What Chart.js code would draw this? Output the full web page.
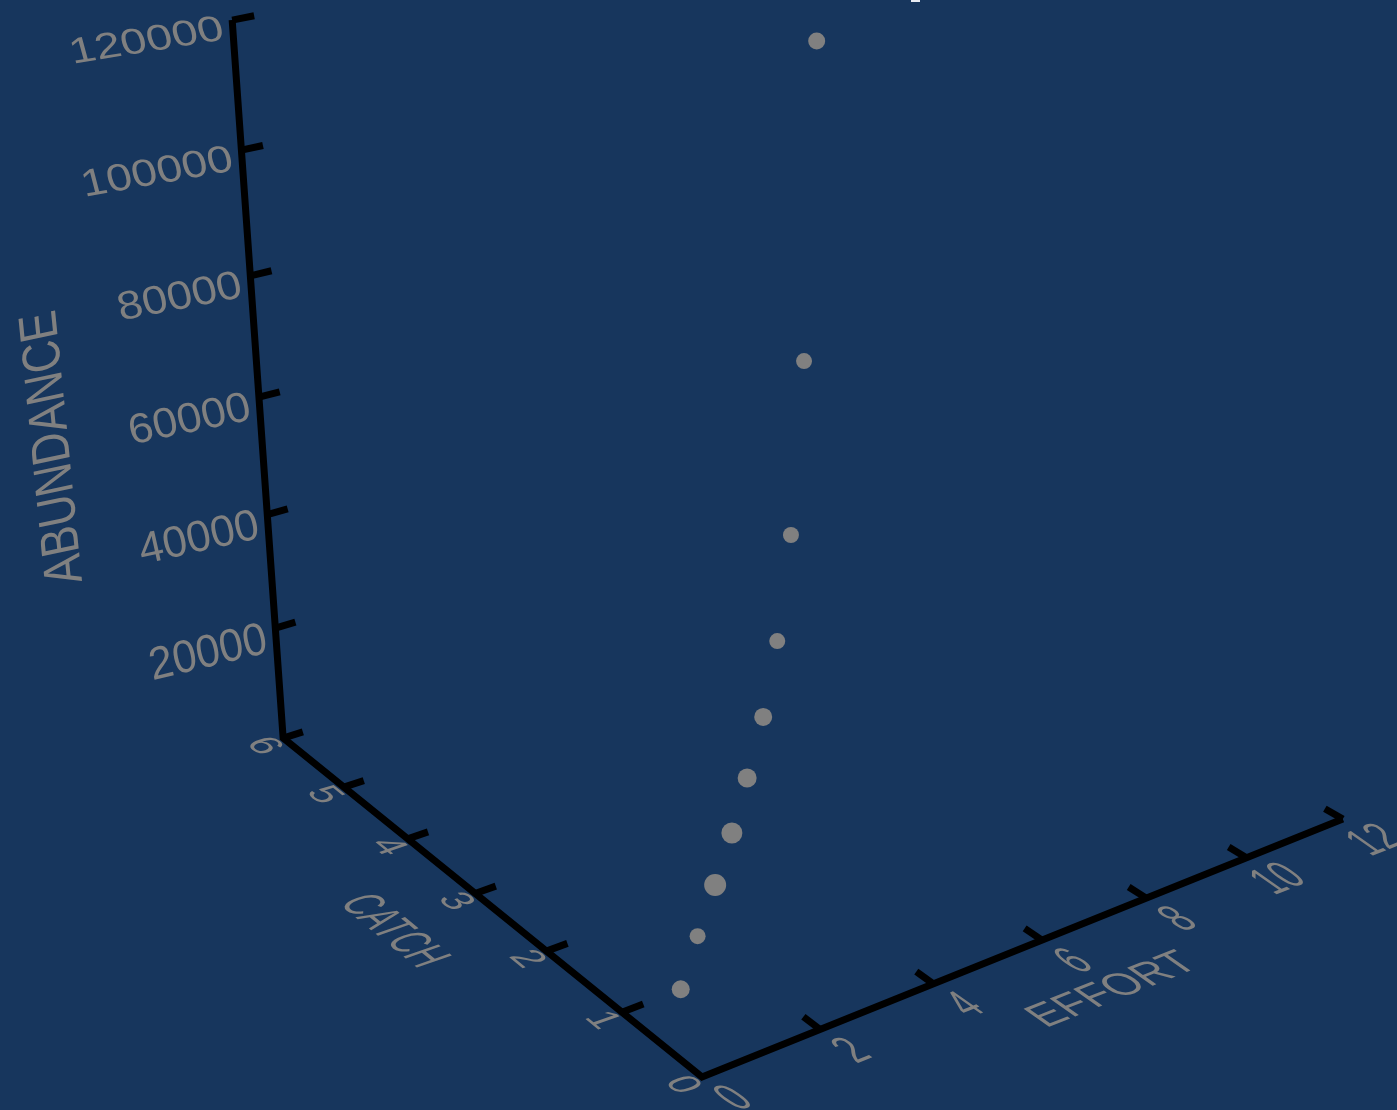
<!DOCTYPE html>
<html>
<head>
<meta charset="utf-8">
<title>Abundance, catch and effort</title>
<script src="https://cdn.jsdelivr.net/npm/chart.js@4"></script>
<style>
	html, body { margin: 0; padding: 0; background: #17365d; overflow: hidden; }
	#wrap { position: relative; width: 1397px; height: 1110px; }
</style>
</head>
<body>
<div id="wrap"><canvas id="chart"></canvas></div>
<script>
// values
const effort = [1, 2, 3, 4, 5, 6, 7, 8, 9, 10];
const catchValues = [1, 1.52, 2.02, 2.52, 3.03, 3.52, 4.03, 4.54, 5.06, 5.6];
const abundance = [50, 50, 370, 1240, 2980, 6410, 12830, 25240, 50260, 100340];

const effortTicks = [0, 2, 4, 6, 8, 10, 12];
const catchTicks = [0, 1, 2, 3, 4, 5, 6];
const abundanceTicks = [20000, 40000, 60000, 80000, 100000, 120000];

// marker size per point, it changes with the point in the original
const markerRadius = [9, 8, 11, 10.5, 9.5, 9, 8, 8, 8, 8.5];

const BG = '#17365d';
const GREY = '#808080';

// 3d -> screen projection, abundance goes per 20000
function project(e, c, a){
	const u = a / 20000;
	const w = 1 + 0.01085 * e + 0.0303 * c - 0.0189 * u;
	return {
		x: (702 + 67.97 * e - 61.23 * c - 14.43 * u) / w,
		y: (1077 - 12.61 * e - 34.12 * c - 141.8 * u) / w
	};
}

function lineSet(points, width){
	return {
		data: points,
		showLine: true,
		borderColor: '#000',
		borderWidth: width,
		borderJoinStyle: 'miter',
		borderCapStyle: 'butt',
		pointRadius: 0
	};
}

const datasets = [];

datasets.push({
	label: 'ABUNDANCE',
	data: effort.map((e, i)=>project(e, catchValues[i], abundance[i])),
	backgroundColor: GREY,
	borderWidth: 0,
	pointRadius: markerRadius,
	pointStyle: 'circle'
});

// axes
datasets.push(lineSet([project(12, 0, 0), project(0, 0, 0), project(0, 6, 0), project(0, 6, 120000)], 7));

// ticks
effortTicks.slice(1).forEach((e)=>{
	datasets.push(lineSet([project(e, 0, 0), project(e, 0.2, 0)], 7));
});
catchTicks.slice(1).forEach((c)=>{
	datasets.push(lineSet([project(0, c, 0), project(0.36, c, 0)], 7));
});
abundanceTicks.forEach((a)=>{
	datasets.push(lineSet([project(0, 6, a), project(0.36, 6, a)], 7));
});

// text lying on the 3d planes, so it needs a skew and not only a rotation
function drawText(ctx, text, x, y, m, align, baseline){
	ctx.save();
	ctx.transform(m[0], m[1], m[2], m[3], x, y);
	ctx.font = '40px "Liberation Sans", Arial, sans-serif';
	ctx.fillStyle = GREY;
	ctx.textAlign = align;
	ctx.textBaseline = baseline;
	ctx.fillText(text, 0, 0);
	ctx.restore();
}

const labelsPlugin = {
	id: 'labels3d',
	beforeDraw(chart){
		const ctx = chart.ctx;
		ctx.save();
		ctx.fillStyle = BG;
		ctx.fillRect(0, 0, chart.width, chart.height);
		ctx.restore();
	},
	afterDraw(chart){
		const ctx = chart.ctx;
		const effortM = [0.78, -0.31, 1.1, 0.77];
		const catchM = [0.74, 0.6, -0.95, 0.33];

		effortTicks.forEach((e)=>{
			const p = project(e, 0, 0);
			drawText(ctx, String(e), p.x + 33, p.y + 22, effortM, 'center', 'middle');
		});
		catchTicks.forEach((c)=>{
			const p = project(0, c, 0);
			drawText(ctx, String(c), p.x - 20, p.y + 8, catchM, 'center', 'middle');
		});
		abundanceTicks.forEach((a)=>{
			const p = project(0, 6, a);
			// labels get flatter and wider going up the axis
			const t = (a - 20000) / 100000;
			const sx = 1.05 + 0.1 * t;
			const slope = 0.24 - 0.08 * t;
			const m = [sx, -slope * sx, 0.24, 1.12 - 0.24 * t];
			drawText(ctx, String(a), p.x - 6, p.y + 24 - 5 * t, m, 'right', 'alphabetic');
		});

		drawText(ctx, 'EFFORT', 1046, 1028, [0.97, -0.385, 0.93, 0.65], 'left', 'alphabetic');
		drawText(ctx, 'CATCH', 338, 903, [0.6, 0.49, -1.27, 0.44], 'left', 'alphabetic');
		drawText(ctx, 'ABUNDANCE', 82, 581, [-0.108, -1.085, 1.33, -0.28], 'left', 'alphabetic');

		// bottom of the title that is cut off by the top edge
		ctx.save();
		ctx.fillStyle = '#e8ebf2';
		ctx.fillRect(911, 0, 9, 2);
		ctx.restore();
	}
};

new Chart(document.getElementById('chart'), {
	type: 'scatter',
	data: { datasets: datasets },
	options: {
		responsive: true,
		maintainAspectRatio: false,
		animation: false,
		layout: { padding: 0, autoPadding: false },
		plugins: { legend: { display: false }, tooltip: { enabled: false } },
		scales: {
			x: { type: 'linear', display: false, min: 0, max: 1397 },
			y: { type: 'linear', display: false, min: 0, max: 1110, reverse: true }
		}
	},
	plugins: [labelsPlugin]
});
</script>
</body>
</html>
